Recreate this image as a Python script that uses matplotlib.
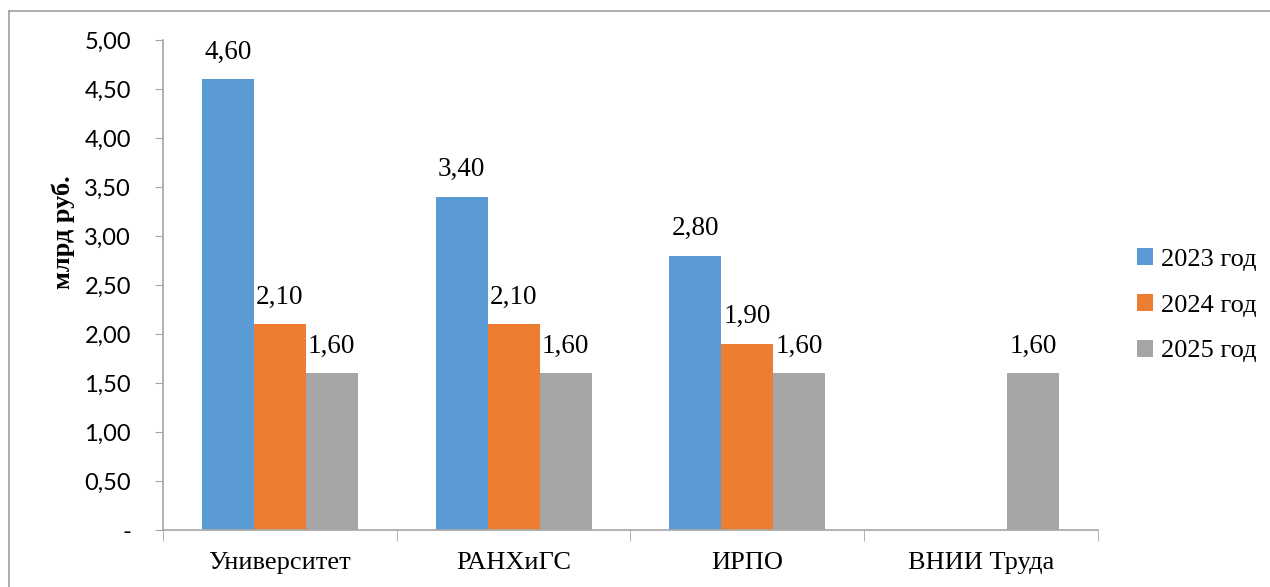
import matplotlib
matplotlib.use("Agg")
import matplotlib.pyplot as plt
import numpy as np
from matplotlib.lines import Line2D

categories = ["Университет", "РАНХиГС", "ИРПО", "ВНИИ Труда"]
series_names = ["2023 год", "2024 год", "2025 год"]
values_2023 = [4.6, 3.4, 2.8, None]
values_2024 = [2.1, 2.1, 1.9, None]
values_2025 = [1.6, 1.6, 1.6, 1.6]
colors = ["#5B9BD5", "#ED7D31", "#A5A5A5"]

serif = "Liberation Serif"
sans = "Lato"


def fmt(v):
	return ("%.2f" % v).replace(".", ",")


fig = plt.figure(figsize=(12.7, 5.87), dpi=100)
ax = fig.add_axes([0.1283, 0.0971, 0.7363, 0.8348])

x = np.arange(len(categories))
width = 1 / 4.5
for i, (vals, name, col) in enumerate(zip([values_2023, values_2024, values_2025], series_names, colors)):
	pos = [xi + (i - 1) * width for xi, v in zip(x, vals) if v is not None]
	hv = [v for v in vals if v is not None]
	ax.bar(pos, hv, width, color=col, label=name)
	for p, v in zip(pos, hv):
		ax.text(p, v + 0.15, fmt(v), ha="center", va="bottom", fontsize=19.5, family=serif)

ax.set_xlim(-0.5, len(categories) - 0.5)
ax.set_ylim(0, 5)
ax.set_yticks(np.arange(0, 5.01, 0.5))
ax.set_yticklabels(["-"] + [fmt(v) for v in np.arange(0.5, 5.01, 0.5)], fontsize=17, family=sans)
ax.set_xticks(x)
ax.set_xticklabels(categories, fontsize=19, family=serif)
ax.set_xticks(np.arange(-0.5, len(categories)), minor=True)
ax.tick_params(axis="x", which="major", length=0, pad=16)
ax.tick_params(axis="x", which="minor", length=8, color="#A6A6A6", direction="out")
ax.tick_params(axis="y", length=6, color="#A6A6A6", pad=17)

for s in ["top", "right"]:
	ax.spines[s].set_visible(False)
for s in ["left", "bottom"]:
	ax.spines[s].set_color("#A6A6A6")
	ax.spines[s].set_linewidth(1.2)

fig.text(0.05, 1 - 232 / 587, "млрд руб.", rotation=90, ha="center", va="center",
		fontsize=19, fontweight="bold", family=serif)

ax.legend(loc="center left", bbox_to_anchor=(0.887, 0.48), bbox_transform=fig.transFigure,
		frameon=False, prop={"family": serif, "size": 19}, handlelength=0.6,
		handleheight=0.6, handletextpad=0.3, labelspacing=0.88, borderaxespad=0)

# frame around the picture (only top and left show in the crop)
fig.add_artist(Line2D([9 / 1270, 9 / 1270], [0, 1 - 11 / 587], transform=fig.transFigure, color="#A0A0A0", lw=1.2))
fig.add_artist(Line2D([9 / 1270, 1], [1 - 11 / 587, 1 - 11 / 587], transform=fig.transFigure, color="#A0A0A0", lw=1.2))

fig.savefig("out.png", dpi=100)
